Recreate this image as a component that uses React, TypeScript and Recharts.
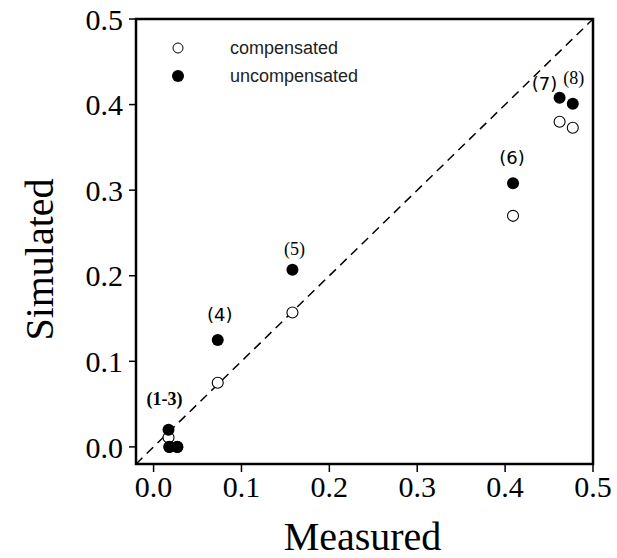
import React from "react";
import {
  ScatterChart,
  Scatter,
  XAxis,
  YAxis,
  ReferenceArea,
  ReferenceLine,
  Legend,
  Label,
} from "recharts";

// ---- data ----
const measured = [0.017, 0.018, 0.027, 0.073, 0.158, 0.409, 0.462, 0.477];
const compensated = [0.011, 0.0, 0.0, 0.075, 0.157, 0.27, 0.38, 0.373];
const uncompensated = [0.02, 0.0, 0.0, 0.125, 0.207, 0.308, 0.408, 0.401];
const pointLabels = ["(1-3)", "", "", "(4)", "(5)", "(6)", "(7)", "(8)"];
const axisTicks = [0, 0.1, 0.2, 0.3, 0.4, 0.5];
const axisDomain = [-0.02, 0.5];
const seriesNames = ["compensated", "uncompensated"];

// ---- styling of the point labels ----
const labelStyle: Record<string, { dx: number; dy: number; font: string; weight: string }> = {
  "(1-3)": { dx: -4, dy: -31, font: "Liberation Serif", weight: "bold" },
  "(4)": { dx: 2, dy: -25, font: "DejaVu Sans", weight: "normal" },
  "(5)": { dx: 2, dy: -21, font: "Liberation Serif", weight: "normal" },
  "(6)": { dx: -1, dy: -26, font: "DejaVu Sans", weight: "normal" },
  "(7)": { dx: -15, dy: -14, font: "DejaVu Sans", weight: "normal" },
  "(8)": { dx: 1, dy: -26, font: "Liberation Serif", weight: "normal" },
};

const compData = measured.map((x, i) => ({ x, y: compensated[i] }));
const uncompData = measured.map((x, i) => ({ x, y: uncompensated[i], label: pointLabels[i] }));

const serif = "'Liberation Serif', 'Times New Roman', serif";
const sans = "'Liberation Sans', Arial, sans-serif";

const OpenDot = (props: any) => {
  const { cx, cy } = props;
  if (cx == null || cy == null) return null;
  return <circle cx={cx} cy={cy} r={5.5} fill="#fff" stroke="#000" strokeWidth={1.1} />;
};

const FilledDot = (props: any) => {
  const { cx, cy, payload } = props;
  if (cx == null || cy == null) return null;
  const lab = payload && payload.label;
  const st = lab ? labelStyle[lab] : null;
  return (
    <g>
      <circle cx={cx} cy={cy} r={6} fill="#000" />
      {lab && st ? (
        <text
          x={cx + st.dx}
          y={cy + st.dy}
          textAnchor="middle"
          dominantBaseline="central"
          fontFamily={`'${st.font}'`}
          fontWeight={st.weight}
          fontSize={18}
          fill="#000"
        >
          {lab}
        </text>
      ) : null}
    </g>
  );
};

const LegendContent = () => (
  <svg width={220} height={60} style={{ display: "block", overflow: "visible" }}>
    <circle cx={8} cy={10} r={5} fill="#fff" stroke="#000" strokeWidth={1} />
    <text x={60} y={10} dominantBaseline="central" fontFamily={sans} fontSize={18} fill="#222">
      {seriesNames[0]}
    </text>
    <circle cx={8} cy={38} r={6} fill="#000" />
    <text x={60} y={38} dominantBaseline="central" fontFamily={sans} fontSize={18} fill="#222">
      {seriesNames[1]}
    </text>
  </svg>
);

export default function App() {
  const fmt = (v: number) => v.toFixed(1);
  return (
    <div style={{ position: "absolute", left: 0, top: 0, background: "#fff" }}>
      <ScatterChart width={617} height={558} margin={{ top: 19, right: 24, bottom: 0, left: 0 }}>
        <XAxis
          type="number"
          dataKey="x"
          domain={axisDomain}
          ticks={axisTicks}
          tickFormatter={fmt}
          allowDataOverflow
          axisLine={false}
          tickLine={{ stroke: "#000", strokeWidth: 1.5 }}
          tickSize={8}
          tickMargin={4}
          height={94}
          tick={{ fontFamily: serif, fontSize: 30, fill: "#000" }}
        >
          <Label
            content={(p: any) => {
              const vb = p.viewBox;
              return (
                <text
                  x={vb.x + vb.width / 2 - 2}
                  y={550}
                  textAnchor="middle"
                  fontFamily={serif}
                  fontSize={40}
                  fill="#000"
                >
                  Measured
                </text>
              );
            }}
          />
        </XAxis>
        <YAxis
          type="number"
          dataKey="y"
          domain={axisDomain}
          ticks={axisTicks}
          tickFormatter={fmt}
          allowDataOverflow
          axisLine={false}
          tickLine={{ stroke: "#000", strokeWidth: 1.5 }}
          tickSize={7}
          tickMargin={6}
          width={136}
          tick={{ fontFamily: serif, fontSize: 30, fill: "#000" }}
        >
          <Label
            content={(p: any) => {
              const vb = p.viewBox;
              const cy = vb.y + vb.height / 2 + 18;
              return (
                <text
                  x={53}
                  y={cy}
                  textAnchor="middle"
                  transform={`rotate(-90 53 ${cy})`}
                  fontFamily={serif}
                  fontSize={40}
                  fill="#000"
                >
                  Simulated
                </text>
              );
            }}
          />
        </YAxis>
        <ReferenceArea
          x1={axisDomain[0]}
          x2={axisDomain[1]}
          y1={axisDomain[0]}
          y2={axisDomain[1]}
          fill="none"
          fillOpacity={0}
          stroke="#000"
          strokeWidth={2.5}
        />
        <ReferenceLine
          segment={[
            { x: axisDomain[0], y: axisDomain[0] },
            { x: axisDomain[1], y: axisDomain[1] },
          ]}
          stroke="#000"
          strokeWidth={1.5}
          strokeDasharray="9 6"
        />
        <Scatter name={seriesNames[0]} data={compData} shape={OpenDot} isAnimationActive={false} />
        <Scatter name={seriesNames[1]} data={uncompData} shape={FilledDot} isAnimationActive={false} />
        <Legend
          content={LegendContent}
          wrapperStyle={{ position: "absolute", left: 170, top: 38, width: 0, height: 0, overflow: "visible" }}
        />
      </ScatterChart>
    </div>
  );
}
